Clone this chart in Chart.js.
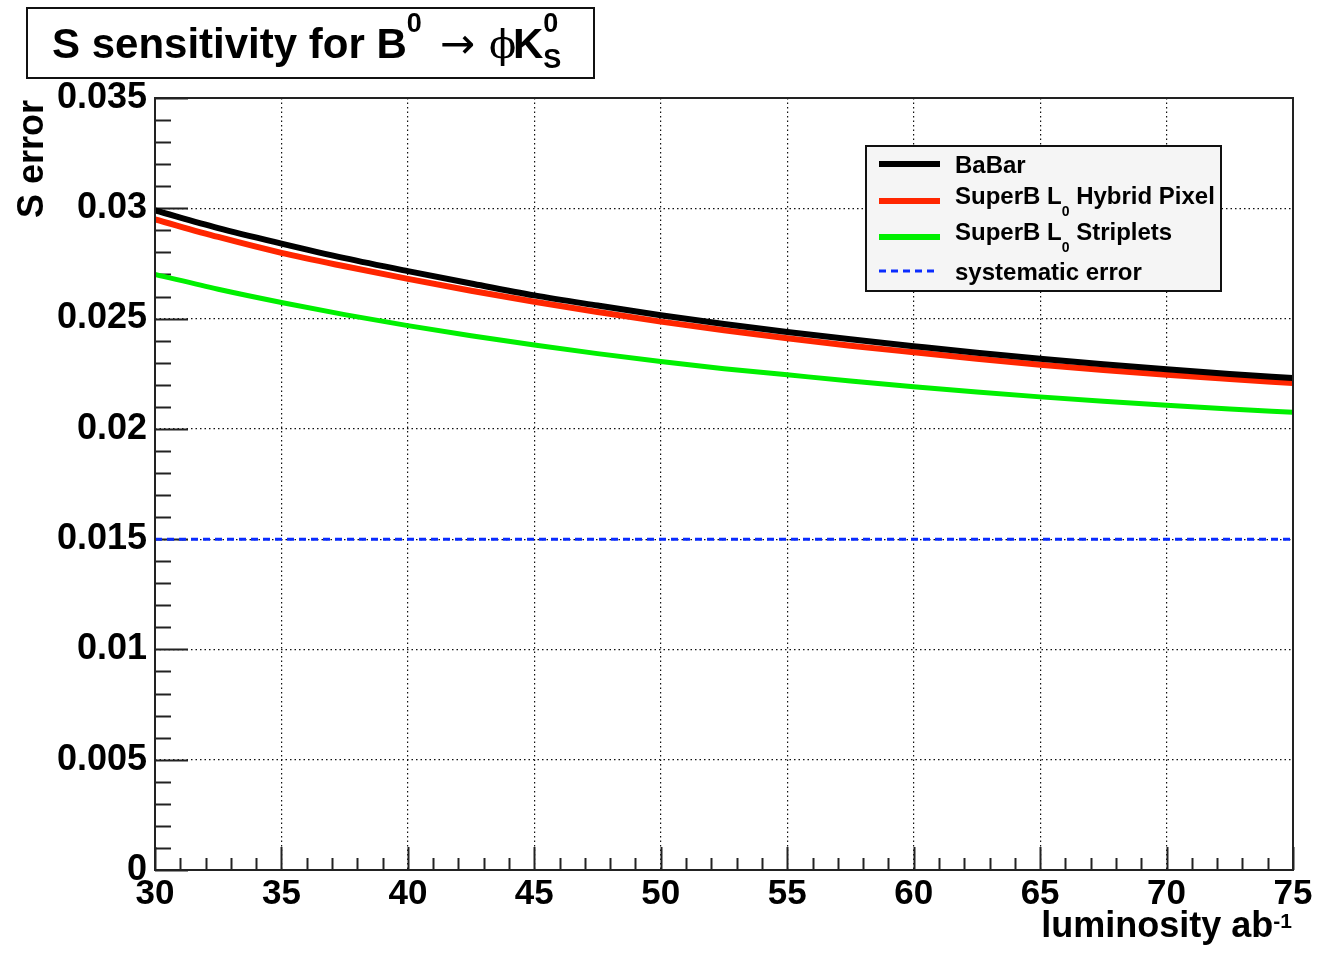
<!DOCTYPE html>
<html>
<head>
<meta charset="utf-8">
<title>S sensitivity</title>
<script src="https://cdn.jsdelivr.net/npm/chart.js@4.4.1/dist/chart.umd.min.js"></script>
<style>
  html, body { margin: 0; padding: 0; background: #fff; }
  #wrap { width: 1317px; height: 953px; position: relative; }
</style>
</head>
<body>
<div id="wrap"><canvas id="sChart"></canvas></div>
<script>
// values
const luminosity = [30, 32.5, 35, 37.5, 40, 42.5, 45, 47.5, 50, 52.5, 55, 57.5, 60, 62.5, 65, 67.5, 70, 72.5, 75];
const babar = [0.0299, 0.0291, 0.0284, 0.02774, 0.02715, 0.02659, 0.02605, 0.02559, 0.02515, 0.02475, 0.02439, 0.02406, 0.02375, 0.02345, 0.02318, 0.02293, 0.0227, 0.02249, 0.0223];
const hybridPixel = [0.0295, 0.0287, 0.02798, 0.02737, 0.0268, 0.02626, 0.02576, 0.0253, 0.02486, 0.02447, 0.02411, 0.02377, 0.02347, 0.02318, 0.02291, 0.02267, 0.02245, 0.02226, 0.02208];
const striplets = [0.0270, 0.02633, 0.02573, 0.02518, 0.02468, 0.02422, 0.0238, 0.02341, 0.02305, 0.02273, 0.02245, 0.02217, 0.02191, 0.02167, 0.02145, 0.02125, 0.02107, 0.0209, 0.02075];
const systematicX = [30, 75];
const systematic = [0.015, 0.015];

const xTickValues = [30, 35, 40, 45, 50, 55, 60, 65, 70, 75];
const xTickLabels = ['30', '35', '40', '45', '50', '55', '60', '65', '70', '75'];
const yTickValues = [0, 0.005, 0.01, 0.015, 0.02, 0.025, 0.03, 0.035];
const yTickLabels = ['0', '0.005', '0.01', '0.015', '0.02', '0.025', '0.03', '0.035'];

const colBabar = '#000000';
const colHybrid = '#ff2600';
const colStrip = '#00f000';
const colSyst = '#0a2cff';
const FONT = '"Liberation Sans", Arial, Helvetica, sans-serif';

function pts(xs, ys) {
  return xs.map((x, i) => ({ x: x, y: ys[i] }));
}

// draw a run of text pieces, each {t, font, x?, dy}
function rich(ctx, x, y, parts) {
  let cx = x;
  parts.forEach(p => {
    ctx.font = p.font;
    if (p.x !== undefined) cx = p.x;
    ctx.fillText(p.t, cx, y + (p.dy || 0));
    if (!p.stay) cx += ctx.measureText(p.t).width;
  });
}

const decorations = {
  id: 'decorations',
  beforeDatasetsDraw(chart) {
    const ctx = chart.ctx;
    const a = chart.chartArea;
    const xs = chart.scales.x, ys = chart.scales.y;
    ctx.save();
    ctx.strokeStyle = '#222';
    ctx.lineWidth = 2;
    // inner ticks, x axis
    for (let v = 30; v <= 75; v += 1) {
      const px = Math.round(xs.getPixelForValue(v)) + 0.5;
      const len = v % 5 === 0 ? 23 : 12;
      ctx.beginPath();
      ctx.moveTo(px, a.bottom);
      ctx.lineTo(px, a.bottom - len);
      ctx.stroke();
    }
    // inner ticks, y axis
    for (let i = 0; i <= 35; i++) {
      const py = Math.round(ys.getPixelForValue(i * 0.001)) + 0.5;
      const len = i % 5 === 0 ? 33 : 16;
      ctx.beginPath();
      ctx.moveTo(a.left, py);
      ctx.lineTo(a.left + len, py);
      ctx.stroke();
    }
    ctx.restore();
  },
  afterDraw(chart) {
    const ctx = chart.ctx;
    const a = chart.chartArea;
    ctx.save();
    // frame
    ctx.strokeStyle = '#222';
    ctx.lineWidth = 2;
    ctx.strokeRect(a.left, a.top, a.right - a.left, a.bottom - a.top);

    ctx.fillStyle = '#000';
    ctx.textBaseline = 'alphabetic';
    ctx.textAlign = 'left';

    // title box
    ctx.fillStyle = '#fff';
    ctx.fillRect(27, 8, 567, 70);
    ctx.strokeStyle = '#111';
    ctx.strokeRect(27, 8, 567, 70);
    ctx.fillStyle = '#000';
    rich(ctx, 52, 58, [
      { t: 'S sensitivity for B', font: 'bold 42px ' + FONT },
      { t: '0', font: 'bold 27px ' + FONT, dy: -26 },
      { t: '\u2192', font: '42px "DejaVu Sans"', x: 440 },
      { t: '\u03d5', font: '40px "DejaVu Serif"', x: 489 },
      { t: 'K', font: 'bold 42px ' + FONT, x: 513 },
      { t: '0', font: 'bold 27px ' + FONT, dy: -26, stay: true },
      { t: 'S', font: 'bold 27px ' + FONT, dy: 10 }
    ]);

    // axis titles
    ctx.save();
    ctx.translate(43, a.top + 2);
    ctx.rotate(-Math.PI / 2);
    ctx.textAlign = 'right';
    ctx.font = 'bold 36px ' + FONT;
    ctx.fillText('S error', 0, 0);
    ctx.restore();

    ctx.font = 'bold 21px ' + FONT;
    const supW = ctx.measureText('-1').width;
    ctx.font = 'bold 36px ' + FONT;
    const mainW = ctx.measureText('luminosity ab').width;
    const startX = a.right - supW - mainW - 1;
    rich(ctx, startX, 937, [
      { t: 'luminosity ab', font: 'bold 36px ' + FONT },
      { t: '-1', font: 'bold 21px ' + FONT, dy: -9 }
    ]);

    // legend
    const lx = 866, ly = 146, lw = 355, lh = 145;
    ctx.fillStyle = '#f5f5f5';
    ctx.fillRect(lx, ly, lw, lh);
    const entries = [
      { color: colBabar, y: 164, ty: 173, dash: null, parts: [{ t: 'BaBar' }] },
      { color: colHybrid, y: 201, ty: 204, dash: null, parts: [{ t: 'SuperB L' }, { t: '0', sub: true }, { t: ' Hybrid Pixel' }] },
      { color: colStrip, y: 237, ty: 240, dash: null, parts: [{ t: 'SuperB L' }, { t: '0', sub: true }, { t: ' Striplets' }] },
      { color: colSyst, y: 271, ty: 280, dash: [7, 5], parts: [{ t: 'systematic error' }] }
    ];
    entries.forEach(e => {
      ctx.save();
      ctx.strokeStyle = e.color;
      ctx.lineWidth = e.dash ? 3 : 6;
      if (e.dash) ctx.setLineDash(e.dash);
      ctx.beginPath();
      ctx.moveTo(879, e.y);
      ctx.lineTo(e.dash ? 936 : 940, e.y);
      ctx.stroke();
      ctx.restore();
      ctx.fillStyle = '#000';
      rich(ctx, 955, e.ty, e.parts.map(p => p.sub
        ? { t: p.t, font: 'bold 14px ' + FONT, dy: 12 }
        : { t: p.t, font: 'bold 24px ' + FONT }));
    });
    ctx.strokeStyle = '#111';
    ctx.lineWidth = 2;
    ctx.strokeRect(lx, ly, lw, lh);
    ctx.restore();
  }
};

const edgeX = [30, 75];
const edgeY = [0, 0.035];

new Chart(document.getElementById('sChart'), {
  type: 'line',
  data: {
    datasets: [
      { label: 'BaBar', data: pts(luminosity, babar), borderColor: colBabar, borderWidth: 6, order: 2 },
      { label: 'SuperB L0 Hybrid Pixel', data: pts(luminosity, hybridPixel), borderColor: colHybrid, borderWidth: 6, order: 3 },
      { label: 'SuperB L0 Striplets', data: pts(luminosity, striplets), borderColor: colStrip, borderWidth: 5, order: 4 },
      { label: 'systematic error', data: pts(systematicX, systematic), borderColor: colSyst, borderWidth: 3, borderDash: [7, 5], order: 1 }
    ]
  },
  options: {
    responsive: true,
    maintainAspectRatio: false,
    animation: false,
    layout: { padding: { top: 98, right: 24, left: 0, bottom: 0 } },
    elements: {
      point: { radius: 0 },
      line: { fill: false, cubicInterpolationMode: 'monotone', borderCapStyle: 'butt' }
    },
    plugins: { legend: { display: false }, title: { display: false }, tooltip: { enabled: false } },
    scales: {
      x: {
        type: 'linear',
        min: 30,
        max: 75,
        afterFit: s => { s.height = 83; },
        afterBuildTicks: s => { s.ticks = xTickValues.map(v => ({ value: v })); },
        grid: {
          drawTicks: false,
          color: c => (c.tick && edgeX.includes(c.tick.value)) ? 'rgba(0,0,0,0)' : '#111',
          lineWidth: 1.2
        },
        border: { display: false, dash: [1.5, 3] },
        ticks: {
          autoSkip: false,
          maxRotation: 0,
          padding: 3,
          color: '#000',
          font: { family: FONT, size: 35, weight: 'bold' },
          callback: (v, i) => xTickLabels[i]
        }
      },
      y: {
        min: 0,
        max: 0.035,
        afterFit: s => { s.width = 155; },
        afterBuildTicks: s => { s.ticks = yTickValues.map(v => ({ value: v })); },
        grid: {
          drawTicks: false,
          color: c => (c.tick && edgeY.includes(c.tick.value)) ? 'rgba(0,0,0,0)' : '#111',
          lineWidth: 1.2
        },
        border: { display: false, dash: [1.5, 3] },
        ticks: {
          autoSkip: false,
          padding: 8,
          color: '#000',
          font: { family: FONT, size: 36, weight: 'bold' },
          callback: (v, i) => yTickLabels[i]
        }
      }
    }
  },
  plugins: [decorations]
});
</script>
</body>
</html>
